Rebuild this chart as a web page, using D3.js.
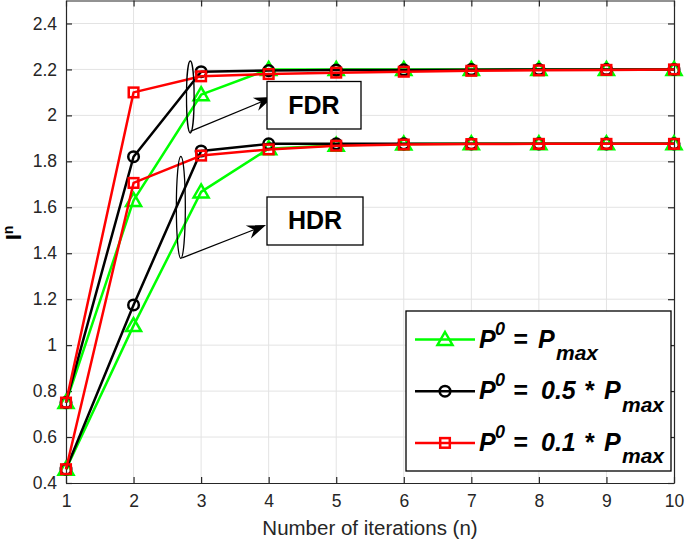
<!DOCTYPE html>
<html><head><meta charset="utf-8">
<script src="https://cdn.jsdelivr.net/npm/d3@7"></script>
<style>body{margin:0;background:#fff}svg{display:block}</style>
</head><body>
<svg id="c" width="685" height="540"></svg>
<script>
// ---- data ----
const iterations = [1, 2, 3, 4, 5, 6, 7, 8, 9, 10];
const fdrPmax   = [0.75, 1.63, 2.09, 2.200, 2.200, 2.200, 2.200, 2.200, 2.200, 2.200];
const fdrHalf   = [0.75, 1.82, 2.19, 2.195, 2.197, 2.198, 2.199, 2.200, 2.200, 2.200];
const fdrTenth  = [0.75, 2.10, 2.17, 2.180, 2.186, 2.190, 2.194, 2.196, 2.198, 2.200];
const hdrPmax   = [0.46, 1.085, 1.667, 1.855, 1.870, 1.875, 1.876, 1.876, 1.876, 1.876];
const hdrHalf   = [0.46, 1.175, 1.845, 1.876, 1.876, 1.876, 1.876, 1.876, 1.876, 1.876];
const hdrTenth  = [0.46, 1.706, 1.825, 1.852, 1.868, 1.873, 1.875, 1.876, 1.876, 1.876];
const yTicks = [0.4, 0.6, 0.8, 1.0, 1.2, 1.4, 1.6, 1.8, 2.0, 2.2, 2.4];
const xTicks = iterations;
const xLabel = "Number of iterations (n)";
const annotations = ["FDR", "HDR"];
const legendCoefs = [null, "0.5", "0.1"];

const seriesDefs = [
  {color: "#00ff00", marker: "triangle", fdr: fdrPmax, hdr: hdrPmax, coef: legendCoefs[0]},
  {color: "#000000", marker: "circle", fdr: fdrHalf, hdr: hdrHalf, coef: legendCoefs[1]},
  {color: "#ff0000", marker: "square", fdr: fdrTenth, hdr: hdrTenth, coef: legendCoefs[2]}
];

// ---- layout ----
const svg = d3.select("#c");
const L = 66, R = 674, T = 0.5, B = 483;
const x = d3.scaleLinear().domain([1, 10]).range([L, R]);
const y = d3.scaleLinear().domain([0.4, 2.5]).range([B, T]);
const axisColor = "#262626";
const font = "'Liberation Sans', Arial, Helvetica, sans-serif";

// grid
const g = svg.append("g");
g.selectAll(".gx").data(xTicks.slice(1, -1)).enter().append("line")
  .attr("x1", d => x(d)).attr("x2", d => x(d)).attr("y1", T).attr("y2", B)
  .attr("stroke", "#e3e3e3").attr("stroke-width", 1);
g.selectAll(".gy").data(yTicks.slice(1)).enter().append("line")
  .attr("y1", d => y(d)).attr("y2", d => y(d)).attr("x1", L).attr("x2", R)
  .attr("stroke", "#e3e3e3").attr("stroke-width", 1);

// axes (box with inner ticks)
const xb = svg.append("g").attr("transform", `translate(0,${B})`)
  .call(d3.axisBottom(x).tickValues(xTicks).tickSizeInner(-6).tickSizeOuter(0).tickPadding(12).tickFormat(d3.format("d")));
const xt = svg.append("g").attr("transform", `translate(0,${T})`)
  .call(d3.axisTop(x).tickValues(xTicks).tickSizeInner(-6).tickSizeOuter(0).tickFormat(""));
const yl = svg.append("g").attr("transform", `translate(${L},0)`)
  .call(d3.axisLeft(y).tickValues(yTicks).tickSizeInner(-6).tickSizeOuter(0).tickPadding(9).tickFormat(d => String(+d.toFixed(1))));
const yr = svg.append("g").attr("transform", `translate(${R},0)`)
  .call(d3.axisRight(y).tickValues(yTicks).tickSizeInner(-6).tickSizeOuter(0).tickFormat(""));
[xb, xt, yl, yr].forEach(a => {
  a.select(".domain").attr("stroke", axisColor).attr("stroke-width", 1.2);
  a.selectAll(".tick line").attr("stroke", axisColor).attr("stroke-width", 1.2);
  a.selectAll("text").attr("fill", axisColor).style("font-family", font).style("font-size", "17.5px");
});

// x label
svg.append("text").attr("x", (L + R) / 2).attr("y", 535).attr("text-anchor", "middle")
  .attr("fill", axisColor).style("font-family", font).style("font-size", "20.5px").text(xLabel);

// y label I^n
const ylab = svg.append("text").attr("transform", "translate(21,233) rotate(-90)")
  .attr("text-anchor", "middle").attr("fill", "#000").style("font-family", font).style("font-weight", "bold");
ylab.append("tspan").style("font-size", "22px").text("I");
ylab.append("tspan").attr("dy", -8).style("font-size", "14px").text("n");

// markers
function drawMarker(sel, type, color, cx, cy) {
  if (type === "triangle") {
    sel.append("path").attr("d", `M${cx},${cy - 7.5}L${cx + 7.5},${cy + 5.5}L${cx - 7.5},${cy + 5.5}Z`)
      .attr("fill", "none").attr("stroke", color).attr("stroke-width", 2.5);
  } else if (type === "circle") {
    sel.append("circle").attr("cx", cx).attr("cy", cy).attr("r", 5.3)
      .attr("fill", "none").attr("stroke", color).attr("stroke-width", 2.5);
  } else {
    sel.append("rect").attr("x", cx - 4.8).attr("y", cy - 4.8).attr("width", 9.6).attr("height", 9.6)
      .attr("fill", "none").attr("stroke", color).attr("stroke-width", 2.5);
  }
}

const line = d3.line().x((d, i) => x(iterations[i])).y(d => y(d));
const plot = svg.append("g");
seriesDefs.forEach(s => {
  [s.fdr, s.hdr].forEach(vals => {
    const sg = plot.append("g");
    sg.append("path").attr("d", line(vals)).attr("fill", "none")
      .attr("stroke", s.color).attr("stroke-width", 2.5).attr("stroke-linejoin", "round");
    vals.forEach((v, i) => drawMarker(sg, s.marker, s.color, x(iterations[i]), y(v)));
  });
});

// annotations
const ann = svg.append("g");
function arrow(x1, y1, x2, y2) {
  const ang = Math.atan2(y2 - y1, x2 - x1);
  const len = 19, hw = 7, notch = 13;
  const bx = x2 - len * Math.cos(ang), by = y2 - len * Math.sin(ang);
  const nx = x2 - notch * Math.cos(ang), ny = y2 - notch * Math.sin(ang);
  const px = -Math.sin(ang), py = Math.cos(ang);
  ann.append("line").attr("x1", x1).attr("y1", y1).attr("x2", nx).attr("y2", ny)
    .attr("stroke", "#000").attr("stroke-width", 1.3);
  ann.append("path").attr("d", `M${x2},${y2}L${bx + px * hw},${by + py * hw}L${nx},${ny}L${bx - px * hw},${by - py * hw}Z`)
    .attr("fill", "#000");
}
// FDR
ann.append("ellipse").attr("cx", x(2.84)).attr("cy", y(2.08)).attr("rx", 3.8).attr("ry", 36)
  .attr("fill", "none").attr("stroke", "#000").attr("stroke-width", 1.3);
arrow(x(2.84), y(1.93), 273, 97);
ann.append("rect").attr("x", 267).attr("y", 81.5).attr("width", 94).attr("height", 47.5)
  .attr("fill", "#fff").attr("stroke", "#000").attr("stroke-width", 1.3);
ann.append("text").attr("x", 314).attr("y", 114).attr("text-anchor", "middle")
  .style("font-family", font).style("font-weight", "bold").style("font-size", "25px").text(annotations[0]);
// HDR
ann.append("ellipse").attr("cx", x(2.7)).attr("cy", y(1.6)).attr("rx", 4.5).attr("ry", 51)
  .attr("fill", "none").attr("stroke", "#000").attr("stroke-width", 1.3);
arrow(x(2.72), y(1.38), 266, 225);
ann.append("rect").attr("x", 267).attr("y", 197).attr("width", 96).attr("height", 48)
  .attr("fill", "#fff").attr("stroke", "#000").attr("stroke-width", 1.3);
ann.append("text").attr("x", 315).attr("y", 229).attr("text-anchor", "middle")
  .style("font-family", font).style("font-weight", "bold").style("font-size", "25px").text(annotations[1]);

// legend
const lg = svg.append("g");
lg.append("rect").attr("x", 406).attr("y", 311).attr("width", 265).attr("height", 160)
  .attr("fill", "#fff").attr("stroke", "#000").attr("stroke-width", 1.3);
seriesDefs.forEach((s, i) => {
  const cy = 339.5 + i * 51.7;
  const base = cy + 8;
  lg.append("line").attr("x1", 415).attr("x2", 475).attr("y1", cy).attr("y2", cy)
    .attr("stroke", s.color).attr("stroke-width", 2.5);
  drawMarker(lg, s.marker, s.color, 445, cy);
  const t = lg.append("text").attr("y", base)
    .style("font-family", font).style("font-weight", "bold").style("font-style", "italic")
    .style("font-size", "25px").attr("fill", "#000");
  t.append("tspan").attr("x", 479).attr("y", base).text("P");
  t.append("tspan").attr("x", 495).attr("y", base - 13).style("font-size", "18px").text("0");
  t.append("tspan").attr("x", 513).attr("y", base).text("=");
  let px;
  if (s.coef) {
    t.append("tspan").attr("x", 541).attr("y", base).text(s.coef);
    t.append("tspan").attr("x", 584).attr("y", base).text("*");
    px = 604;
  } else {
    px = 538;
  }
  t.append("tspan").attr("x", px).attr("y", base).text("P");
  t.append("tspan").attr("x", px + 18).attr("y", base + 12.5).style("font-size", "21px").text("max");
});
</script>
</body></html>
